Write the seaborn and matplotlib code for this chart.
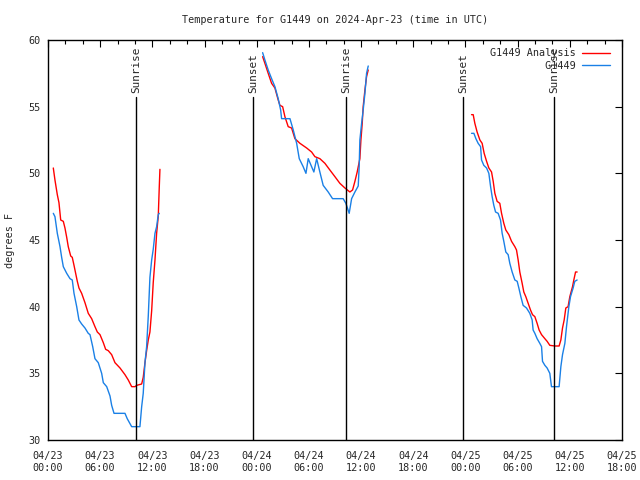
import numpy as np
import pandas as pd
import matplotlib
matplotlib.use("Agg")
import matplotlib.pyplot as plt
import seaborn as sns

# hours since 2024-04-23 00:00 UTC
analysis_hours = [
    0.61, 0.80, 1.07, 1.26, 1.46, 1.76, 1.95, 2.15, 2.33, 2.61,
    2.79, 2.99, 3.18, 3.37, 3.56, 3.87, 4.25, 4.63, 5.02, 5.40,
    5.67, 5.98, 6.36, 6.63, 6.93, 7.32, 7.70, 8.28, 8.85, 9.23,
    9.62, 10.0, 10.2, 10.77, 10.95, 11.15, 11.34, 11.53, 11.72, 11.92,
    12.1, 12.3, 12.49, 12.68, 12.79, 12.87,
    24.68, 24.94, 25.32, 25.71, 26.09, 26.47, 26.67, 26.98, 27.24, 27.62,
    28.01, 28.39, 28.97, 29.74, 30.31, 30.69, 31.26, 31.84, 32.41, 32.99,
    33.56, 34.14, 34.71, 35.02, 35.29, 35.55, 35.86, 35.98, 36.13, 36.24,
    36.44, 36.63, 36.82,
    48.7, 48.89, 49.08, 49.34, 49.66, 49.92, 50.15, 50.43, 50.69, 51.0,
    51.19, 51.38, 51.64, 51.95, 52.15, 52.41, 52.64, 52.99, 53.3, 53.68,
    53.87, 54.06, 54.25, 54.52, 54.71, 54.94, 55.21, 55.48, 55.71, 55.98,
    56.24, 56.47, 56.75, 57.13, 57.39, 57.7, 58.28, 58.77, 58.97, 59.16,
    59.35, 59.54, 59.8, 60.0, 60.31, 60.46, 60.66, 60.84,
]
analysis_temps = [
    50.4, 49.5, 48.4, 47.8, 46.5, 46.4, 45.9, 45.2, 44.5, 43.8,
    43.7, 43.1, 42.5, 41.9, 41.4, 41.0, 40.3, 39.5, 39.1, 38.5,
    38.1, 37.9, 37.3, 36.8, 36.7, 36.4, 35.8, 35.4, 34.9, 34.5,
    34.0, 34.0, 34.1, 34.2, 34.7, 35.8, 36.7, 37.5, 38.1, 39.7,
    41.8, 43.5, 45.5, 46.8, 48.9, 50.3,
    58.75, 58.25, 57.5, 56.75, 56.4, 55.5, 55.1, 55.0, 54.25, 53.5,
    53.4, 52.6, 52.25, 51.9, 51.6, 51.25, 51.1, 50.75, 50.25, 49.75,
    49.25, 48.9, 48.6, 48.75, 49.4, 50.1, 51.1, 52.5, 53.75, 55.0,
    56.25, 57.25, 57.75,
    54.4, 54.4, 53.75, 53.1, 52.5, 52.25, 51.5, 50.9, 50.4, 50.1,
    49.4, 48.5, 47.9, 47.75, 47.0, 46.25, 45.75, 45.4, 44.9, 44.5,
    44.25, 43.5, 42.6, 41.75, 41.1, 40.75, 40.25, 39.75, 39.4, 39.25,
    38.75, 38.25, 37.9, 37.6, 37.4, 37.1, 37.05, 37.05, 37.5, 38.4,
    39.0, 39.9, 40.0, 40.75, 41.5, 42.0, 42.6, 42.6,
]

obs_hours = [
    0.61, 0.80, 1.07, 1.38, 1.57, 1.76, 2.15, 2.53, 2.79, 2.99,
    3.30, 3.56, 3.87, 4.25, 4.63, 4.83, 5.14, 5.40, 5.78, 6.17,
    6.36, 6.75, 7.13, 7.32, 7.59, 8.85, 9.11, 9.62, 10.57, 10.77,
    10.95, 11.15, 11.34, 11.53, 11.72, 11.92, 12.1, 12.3, 12.49, 12.68,
    12.79,
    24.68, 24.94, 25.32, 25.71, 26.09, 26.47, 26.75, 26.86, 27.82, 28.2,
    28.59, 28.89, 29.34, 29.66, 29.92, 30.31, 30.57, 30.89, 31.26, 31.64,
    32.22, 32.72, 33.94, 34.25, 34.63, 34.91, 35.29, 35.67, 35.78, 35.86,
    36.06, 36.24, 36.44, 36.63, 36.82,
    48.7, 48.97, 49.2, 49.46, 49.74, 49.85, 50.11, 50.43, 50.69, 50.89,
    51.07, 51.26, 51.46, 51.76, 52.03, 52.22, 52.41, 52.64, 52.91, 53.1,
    53.37, 53.68, 53.95, 54.14, 54.37, 54.63, 55.02, 55.4, 55.67, 55.78,
    55.98, 56.24, 56.55, 56.75, 56.86, 57.13, 57.39, 57.7, 57.89, 58.77,
    58.97, 59.16, 59.43, 59.62, 59.89, 60.08, 60.38, 60.57, 60.84,
]
obs_temps = [
    47.0, 46.75, 45.5, 44.5, 43.7, 43.0, 42.5, 42.1, 42.0, 41.0,
    40.0, 39.0, 38.7, 38.4, 38.0, 37.9, 37.0, 36.1, 35.8, 35.0,
    34.3, 34.0, 33.3, 32.6, 32.0, 32.0, 31.6, 31.0, 31.0, 32.5,
    33.5, 35.8, 37.0, 39.3, 42.2, 43.5, 44.3, 45.5, 46.0, 46.9,
    47.0,
    59.05, 58.5, 57.75, 57.1, 56.5, 55.6, 54.75, 54.1, 54.1, 53.25,
    52.25, 51.1, 50.5, 50.0, 51.1, 50.5, 50.1, 51.1, 50.1, 49.1,
    48.6, 48.1, 48.1, 47.75, 47.0, 48.1, 48.6, 49.05, 50.5, 52.5,
    53.75, 54.75, 56.0, 57.5, 58.05,
    53.0, 53.0, 52.6, 52.25, 52.0, 51.0, 50.6, 50.4, 50.0, 49.0,
    48.25, 47.6, 47.1, 47.0, 46.5, 45.5, 44.9, 44.1, 43.9, 43.25,
    42.6, 42.0, 41.9, 41.4, 40.75, 40.1, 39.9, 39.5, 39.0, 38.25,
    38.0, 37.6, 37.25, 37.0, 35.9, 35.6, 35.4, 35.0, 34.0, 34.0,
    35.5, 36.4, 37.25, 38.5, 40.0, 40.75, 41.4, 41.9, 42.0,
]

sun_hours = [10.1, 23.6, 34.3, 47.7, 58.2]
sun_labels = ["Sunrise", "Sunset", "Sunrise", "Sunset", "Sunrise"]

tick_hours = [0, 6, 12, 18, 24, 30, 36, 42, 48, 54, 60, 66]
tick_labels = [
    "04/23\n00:00", "04/23\n06:00", "04/23\n12:00", "04/23\n18:00",
    "04/24\n00:00", "04/24\n06:00", "04/24\n12:00", "04/24\n18:00",
    "04/25\n00:00", "04/25\n06:00", "04/25\n12:00", "04/25\n18:00",
]

series_names = ["G1449 Analysis", "G1449"]
series_colors = {"G1449 Analysis": "#ff0000", "G1449": "#1a80e6"}


def to_frame(hours, temps, name):
    df = pd.DataFrame({"hours": hours, "temp": temps, "series": name})
    # break the line wherever there is a multi-hour gap in the record
    df["segment"] = (df["hours"].diff() > 5).cumsum()
    return df


data = pd.concat([
    to_frame(analysis_hours, analysis_temps, series_names[0]),
    to_frame(obs_hours, obs_temps, series_names[1]),
], ignore_index=True)

sns.set_style("white")
plt.rcParams["font.family"] = ["DejaVu Sans Mono"]
plt.rcParams["font.size"] = 7.3

fig = plt.figure(figsize=(6.4, 4.8), dpi=100)
ax = fig.add_axes([48 / 640, 40 / 480, 574 / 640, 400 / 480])

sns.lineplot(
    data=data, x="hours", y="temp", hue="series", units="segment",
    estimator=None, sort=False, hue_order=series_names,
    palette=series_colors, linewidth=1.0, ax=ax,
)

for h, lab in zip(sun_hours, sun_labels):
    ax.plot([h, h], [30, 55.7], color="black", lw=1.0)
    ax.text(h, 56.0, lab, rotation=90, ha="center", va="bottom", fontsize=7.9)

ax.set_xlim(0, 66)
ax.set_ylim(30, 60)
ax.set_xticks(tick_hours)
ax.set_xticklabels(tick_labels)
ax.set_xticks(np.arange(0, 67, 2), minor=True)
ax.set_yticks(np.arange(30, 61, 5))
ax.tick_params(axis="both", which="both", direction="in", top=True,
               right=True, color="black", labelsize=7.3, width=0.8)
ax.tick_params(axis="both", which="major", length=5)
ax.tick_params(axis="x", which="major", pad=8)
ax.tick_params(axis="x", which="minor", length=3)
ax.tick_params(axis="y", which="major", pad=5)

for s in ax.spines.values():
    s.set_color("black")
    s.set_linewidth(1.0)

ax.set_xlabel("")
ax.set_ylabel("degrees F", fontsize=7.3, labelpad=10)
ax.set_title("Temperature for G1449 on 2024-Apr-23 (time in UTC)",
             fontsize=7.3, pad=12)

handles, labels = ax.get_legend_handles_labels()
width = max(len(l) for l in labels)
labels = [l.rjust(width) for l in labels]
ax.legend(handles, labels, loc="upper right", frameon=False,
          markerfirst=False, fontsize=7.3, handlelength=2.8,
          handletextpad=0.6, labelspacing=0.25,
          bbox_to_anchor=(0.99, 0.995), borderaxespad=0.2)

fig.savefig("out.png", dpi=100)
